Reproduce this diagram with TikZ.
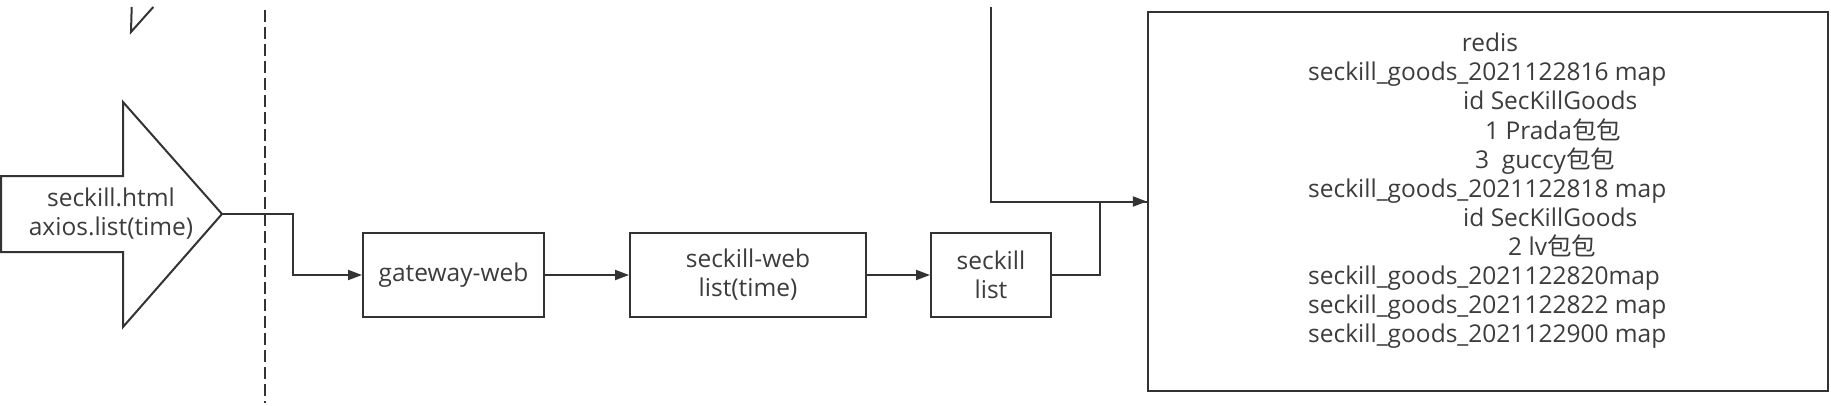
\documentclass[tikz,border=0pt]{standalone}
\usepackage{fontspec}
\setmainfont{Open Sans}
\newfontfamily\cjk{Noto Sans CJK SC}
\usetikzlibrary{arrows.meta}
\definecolor{linec}{HTML}{333333}
\definecolor{textc}{HTML}{3C3C3C}
\begin{document}
\begin{tikzpicture}[x=1pt,y=-1pt,
  every node/.style={font=\fontsize{24.5}{29.1}\selectfont, text=textc, inner sep=0pt},
  stepbox/.style={draw=linec, line width=2pt, rectangle, align=center},
  conn/.style={draw=linec, line width=2pt, -{Triangle[length=14pt,width=10pt]}},
  plainline/.style={draw=linec, line width=2pt},
  divider/.style={draw=linec, line width=2pt, dash pattern=on 12pt off 5pt},
  redisline/.style={anchor=base west}
]
\useasboundingbox (0,0) rectangle (1831,405);

% partial shape at the top
\draw[plainline] (131.7,7) -- (131,32) -- (153.3,7);

% divider
\draw[divider] (265,10) -- (265,403);

% big arrow shape
\draw[plainline, line join=miter, fill=white]
  (1,176) -- (123,176) -- (123,102) -- (222,214) -- (123,327) -- (123,252) -- (1,252) -- cycle;
\node[align=center] (src) at (111,214) {seckill.html\\axios.list(time)};
\coordinate (tip) at (222,214);

% boxes
\node[stepbox, minimum width=181pt, minimum height=84pt] (gateway) at (453.5,275) {gateway-web};
\node[stepbox, minimum width=236pt, minimum height=84pt] (seckillweb) at (748,275) {seckill-web\\list(time)};
\node[stepbox, minimum width=120pt, minimum height=84pt] (seckill) at (991,275) {seckill\\list};
\node[stepbox, minimum width=680pt, minimum height=379pt] (redis) at (1487.8,201.5) {};

% redis contents
\node[redisline] (r1) at (1461.7,51.7) {redis};
\node[redisline] (r2) at (1308,80.8) {seckill\_goods\_2021122816 map};
\node[redisline] (r3) at (1463,109.9) {id SecKillGoods};
\node[redisline] (r4) at (1485,139) {1 Prada{\cjk 包包}};
\node[redisline] (r5) at (1475,168.1) {3\ \ guccy{\cjk 包包}};
\node[redisline] (r6) at (1308,197.2) {seckill\_goods\_2021122818 map};
\node[redisline] (r7) at (1463,226.3) {id SecKillGoods};
\node[redisline] (r8) at (1508,255.4) {2 lv{\cjk 包包}};
\node[redisline] (r9) at (1308,284.5) {seckill\_goods\_2021122820map};
\node[redisline] (r10) at (1308,313.6) {seckill\_goods\_2021122822 map};
\node[redisline] (r11) at (1308,342.7) {seckill\_goods\_2021122900 map};

% connectors
\coordinate (topin) at (991,7);
\draw[plainline] (topin) |- (redis.west);
\draw[conn] (tip) -- ++(71,0) |- (gateway.west);
\draw[conn] (gateway.east) -- (seckillweb.west);
\draw[conn] (seckillweb.east) -- (seckill.west);
\draw[conn] (seckill.east) -- ++(48,0) |- (redis.west);
\end{tikzpicture}
\end{document}
